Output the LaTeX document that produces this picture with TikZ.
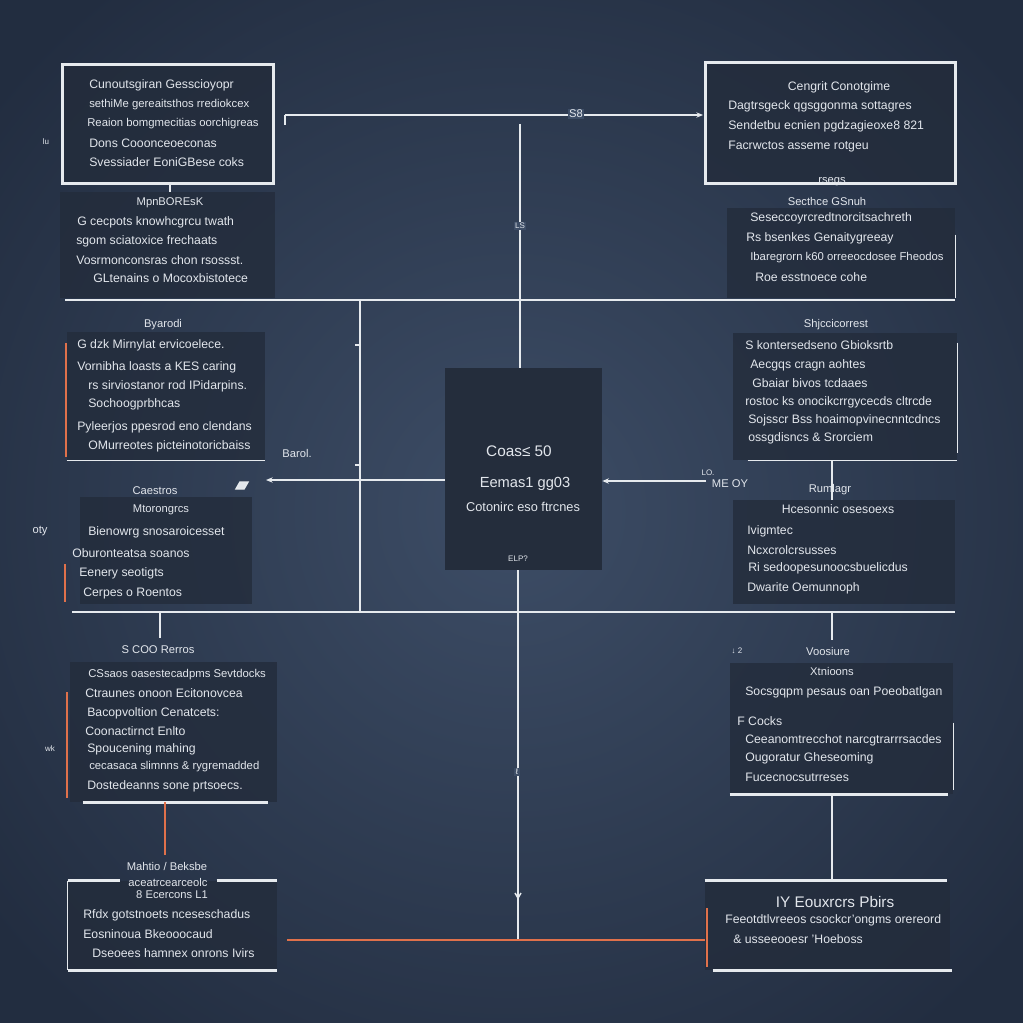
\documentclass[tikz,border=0pt]{standalone}
\usepackage{fontspec}
\setmainfont{Liberation Sans}
\usetikzlibrary{fit,arrows.meta}
\definecolor{bgin}{HTML}{3D4D66}
\definecolor{bgout}{HTML}{222D40}
\definecolor{panelc}{HTML}{232C3B}
\definecolor{centc}{HTML}{242D3C}
\definecolor{ink}{HTML}{E2E6EC}
\definecolor{wline}{HTML}{E6EAEE}
\definecolor{orng}{HTML}{E0714B}
\begin{document}
\begin{tikzpicture}[x=0.75pt,y=-0.75pt,
  panelbox/.style={fill=panelc, fill opacity=0.8, inner sep=0pt, draw=none},
  tx/.style={text=ink, font=\fontsize{9.2}{11}\selectfont, anchor=west, inner sep=0pt},
  txs/.style={tx, font=\fontsize{8.5}{10}\selectfont},
  txc/.style={tx, anchor=center},
  lbl/.style={txc, font=\fontsize{8.4}{10}\selectfont},
  tiny/.style={txc, font=\fontsize{6}{7}\selectfont},
  wl/.style={draw=wline, line width=1.1pt},
  wthick/.style={draw=wline, line width=2.2pt},
  ol/.style={draw=orng, line width=2.2pt},
  arr/.style={wl, -{Stealth[length=5pt,width=4pt]}}
]
\useasboundingbox (0,0) rectangle (1023,1023);
\shade[inner color=bgin, outer color=bgout] (-150,-150) rectangle (1173,1173);

% ---------- panels ----------
\node[panelbox, fit={(63,65) (273,183)}] (tl) {};
\node[panelbox, fit={(60,192) (275,298)}] (tl2) {};
\node[panelbox, fit={(706,63) (955,183)}] (tr) {};
\node[panelbox, fit={(727,208) (955,298)}] (tr2) {};
\node[panelbox, fit={(67,332) (265,460)}] (ml) {};
\node[panelbox, fit={(80,497) (252,604)}] (ml2) {};
\node[panelbox, fit={(445,368) (602,570)}, fill=centc, fill opacity=1] (ctr) {};
\node[panelbox, fit={(733,333) (957,460)}] (mr) {};
\node[panelbox, fit={(733,500) (955,604)}] (mr2) {};
\node[panelbox, fit={(70,662) (277,802)}] (bl) {};
\node[panelbox, fit={(68,881) (277,970)}] (bl2) {};
\node[panelbox, fit={(730,663) (953,794)}] (br) {};
\node[panelbox, fit={(705,881) (950,970)}] (br2) {};

% ---------- borders ----------
\draw[wthick] (tl.north west) rectangle (tl.south east);
\draw[wthick] (tr.north west) rectangle (tr.south east);
\draw[wl] ([yshift=-0.75pt*27]tr2.north east) -- (tr2.south east);
\draw[wl] (ml.south west) -- (ml.south east);
\draw[wl] ([yshift=-0.75pt*10]mr.north east) -- ([yshift=0.75pt*7]mr.south east);
\draw[wl] ([xshift=0.75pt*15]mr.south west) -- (mr.south east);
\draw[wthick] ([xshift=0.75pt*13]bl.south west) -- ([xshift=-0.75pt*9]bl.south east);
\draw[wthick] (bl2.north west) -- ([xshift=0.75pt*52]bl2.north west);
\draw[wthick] ([xshift=0.75pt*149]bl2.north west) -- (bl2.north east);
\draw[wl] (bl2.north west) -- (bl2.south west);
\draw[wthick] (bl2.south west) -- (bl2.south east);
\draw[wl] ([yshift=-0.75pt*60]br.north east) -- ([yshift=0.75pt*4]br.south east);
\draw[wthick] (br.south west) -- ([xshift=-0.75pt*5]br.south east);
\draw[wthick] (br2.north west) -- ([xshift=-0.75pt*3]br2.north east);
\draw[wthick] ([xshift=0.75pt*8]br2.south west) -- ([xshift=0.75pt*2]br2.south east);

% orange bars
\draw[ol] (66,343) -- (66,457);
\draw[ol] (65,564) -- (65,602);
\draw[ol] (67,692) -- (67,798);
\draw[ol] (707,908) -- (707,967);

% ---------- texts: top left ----------
\node[tx] (t1a) at (89,85) {Cunoutsgiran Gesscioyopr};
\node[txs] (t1b) at (89,105) {sethiMe gereaitsthos rrediokcex};
\node[txs] (t1c) at (87,124) {Reaion bomgmecitias oorchigreas};
\node[tx] (t1d) at (89,143) {Dons Cooonceoeconas};
\node[tx] (t1e) at (89,162) {Svessiader EoniGBese coks};
\node[tiny] (l1) at (46,142) {lu};
\node[lbl] (t2h) at (170,203) {MpnBOREsK};
\node[tx] (t2a) at (77,222) {G cecpots knowhcgrcu twath};
\node[tx] (t2b) at (76,241) {sgom sciatoxice frechaats};
\node[tx] (t2c) at (76,260) {Vosrmonconsras chon rsossst.};
\node[tx] (t2d) at (93,278) {GLtenains o Mocoxbistotece};

% ---------- texts: top right ----------
\node[txc] (t3h) at (839,87) {Cengrit Conotgime};
\node[tx] (t3a) at (728,106) {Dagtrsgeck qgsggonma sottagres};
\node[tx] (t3b) at (728,126) {Sendetbu ecnien pgdzagieoxe8 821};
\node[tx] (t3c) at (728,147) {Facrwctos asseme rotgeu};
\node[lbl] (t3x) at (832,182) {rsegs};
\node[lbl] (t4h) at (827,201) {Secthce GSnuh};
\node[tx] (t4a) at (750,218) {Seseccoyrcredtnorcitsachreth};
\node[tx] (t4b) at (746,238) {Rs bsenkes Genaitygreeay};
\node[txs] (t4c) at (750,258) {Ibaregrorn k60 orreeocdosee Fheodos};
\node[tx] (t4d) at (755,277) {Roe esstnoece cohe};

% ---------- texts: middle left ----------
\node[lbl] (t5h) at (163,325) {Byarodi};
\node[tx] (t5a) at (77,345) {G dzk Mirnylat ervicoelece.};
\node[tx] (t5b) at (77,367) {Vornibha loasts a KES caring};
\node[tx] (t5c) at (88,386) {rs sirviostanor rod IPidarpins.};
\node[tx] (t5d) at (88,404) {Sochoogprbhcas};
\node[tx] (t5e) at (77,427) {Pyleerjos ppesrod eno clendans};
\node[tx] (t5f) at (88,446) {OMurreotes picteinotoricbaiss};
\node[lbl] (bar) at (297,453) {Barol.};
\draw[wl, fill=ink] (236,489) -- (240,482) -- (248,482) -- (244,489) -- cycle;
\node[lbl] (t6h) at (155,491) {Caestros};
\node[lbl] (t6a) at (161,510) {Mtorongrcs};
\node[tx] (t6b) at (88,532) {Bienowrg snosaroicesset};
\node[tx] (t6c) at (72,553) {Oburonteatsa soanos};
\node[tx] (t6d) at (79,573) {Eenery seotigts};
\node[tx] (t6e) at (83,593) {Cerpes o Roentos};
\node[lbl] (oty) at (40,531) {oty};

% ---------- texts: centre ----------
\node[txc, font=\fontsize{11.5}{13}\selectfont] (c1) at (519,451) {Coas≤ 50};
\node[txc, font=\fontsize{11}{13}\selectfont] (c2) at (525,484) {Eemas1 gg03};
\node[txc, font=\fontsize{9.6}{12}\selectfont] (c3) at (523,507) {Cotonirc eso ftrcnes};
\node[tiny] (c4) at (518,559) {ELP?};

% ---------- texts: middle right ----------
\node[lbl] (t7h) at (836,325) {Shjccicorrest};
\node[tx] (t7a) at (745,345) {S kontersedseno Gbioksrtb};
\node[tx] (t7b) at (750,365) {Aecgqs cragn aohtes};
\node[tx] (t7c) at (752,383) {Gbaiar bivos tcdaaes};
\node[tx] (t7d) at (745,402) {rostoc ks onocikcrrgycecds cltrcde};
\node[tx] (t7e) at (748,420) {Sojsscr Bss hoaimopvinecnntcdncs};
\node[tx] (t7f) at (748,438) {ossgdisncs \& Srorciem};
\node[tiny] (lo) at (708,473) {LO.};
\node[lbl] (meoy) at (730,484) {ME OY};
\node[lbl] (t8h) at (830,490) {Rumlagr};
\node[txc] (t8a) at (838,509) {Hcesonnic osesoexs};
\node[tx] (t8b) at (747,531) {Ivigmtec};
\node[tx] (t8c) at (747,550) {Ncxcrolcrsusses};
\node[tx] (t8d) at (748,568) {Ri sedoopesunoocsbuelicdus};
\node[tx] (t8e) at (747,588) {Dwarite Oemunnoph};

% ---------- texts: bottom left ----------
\node[lbl] (t9h) at (158,650) {S COO Rerros};
\node[txs] (t9a) at (88,675) {CSsaos oasestecadpms Sevtdocks};
\node[tx] (t9b) at (85,693) {Ctraunes onoon Ecitonovcea};
\node[tx] (t9c) at (87,713) {Bacopvoltion Cenatcets:};
\node[tx] (t9d) at (85,731) {Coonactirnct Enlto};
\node[tx] (t9e) at (87,749) {Spoucening mahing};
\node[txs] (t9f) at (89,767) {cecasaca slimnns \& rygremadded};
\node[tx] (t9g) at (87,786) {Dostedeanns sone prtsoecs.};
\node[tiny] (wk) at (50,749) {wk};
\node[lbl] (t10h) at (167,866) {Mahtio / Beksbe};
\node[lbl] (t10x) at (168,882) {aceatrcearceolc};
\node[lbl] (t10y) at (172,895) {8 Ecercons L1};
\node[tx] (t10a) at (83,915) {Rfdx gotstnoets nceseschadus};
\node[tx] (t10b) at (83,934) {Eosninoua Bkeooocaud};
\node[tx] (t10c) at (92,953) {Dseoees hamnex onrons Ivirs};

% ---------- texts: bottom right ----------
\node[lbl] (t11h) at (828,651) {Voosiure};
\node[tiny] (d2) at (737,651) {↓ 2};
\node[lbl] (t11x) at (832,671) {Xtnioons};
\node[tx] (t11a) at (745,692) {Socsgqpm pesaus oan Poeobatlgan};
\node[tx] (t11b) at (737,721) {F Cocks};
\node[tx] (t11c) at (745,740) {Ceeanomtrecchot narcgtrarrrsacdes};
\node[tx] (t11d) at (745,758) {Ougoratur Gheseoming};
\node[tx] (t11e) at (745,777) {Fucecnocsutrreses};
\node[txc, font=\fontsize{11.5}{13}\selectfont] (t12h) at (835,902) {IY Eouxrcrs Pbirs};
\node[tx] (t12a) at (725,920) {Feeotdtlvreeos csockcr'ongms orereord};
\node[tx] (t12b) at (733,939) {\& usseeooesr 'Hoeboss};

% ---------- connector coordinates ----------
\coordinate (h1a) at (285,115);
\coordinate (h1b) at (703,115);
\coordinate (v1a) at (520,124);
\coordinate (bus1l) at (65,300);
\coordinate (bus1r) at (955,300);
\coordinate (bus1c) at (520,300);
\coordinate (bus1m) at (360,300);
\coordinate (bus2l) at (72,612);
\coordinate (bus2r) at (955,612);
\coordinate (bus2m) at (360,612);
\coordinate (la) at (266,480);
\coordinate (ra) at (706,481);
\coordinate (ob) at (518,940);

% ---------- connectors ----------
\draw[arr] (h1a) -- (h1b);
\draw[wl] (h1a) -- ++(0,10);
\node[lbl, fill=bgin, inner sep=1pt] (s8) at (576,114) {S8};
\draw[wl] (v1a) -- (bus1c) -- (ctr.north -| bus1c);
\node[tiny, fill=bgin, inner sep=1pt] (ls) at (520,226) {LS};
\draw[wl] (bus1l) -- (bus1r);
\draw[wl] (bus2l) -- (bus2r);
\draw[wl] (bus1m) -- (bus2m);
\draw[wl] (355,345) -- (361,345);
\draw[wl] (355,465) -- (361,465);
\draw[wl] (tl.south -| 170,0) -- (tl2.north -| 170,0);
\draw[arr] (ctr.west |- la) -- (la);
\draw[arr] (ra) -- (ctr.east |- ra);
\draw[wl] (mr.south -| 832,0) -- (mr2.north -| 832,0);
\draw[wl] (bus2r -| 832,0) -- (832,640);
\draw[wl] (bus2l -| 160,0) -- (160,638);
\draw[wl] (ctr.south -| 518,0) -- (ob);
\node[tiny, fill=bgin, inner sep=1pt] (ell) at (517,772) {ℓ};
\draw[wl] (515,893) -- (518,898) -- (521,893);
\draw[ol] (bl.south -| 165,0) -- (165,855);
\draw[ol] (287,940) -- (br2.west |- 0,940);
\draw[wl] (br.south -| 832,0) -- (br2.north -| 832,0);
\end{tikzpicture}
\end{document}
